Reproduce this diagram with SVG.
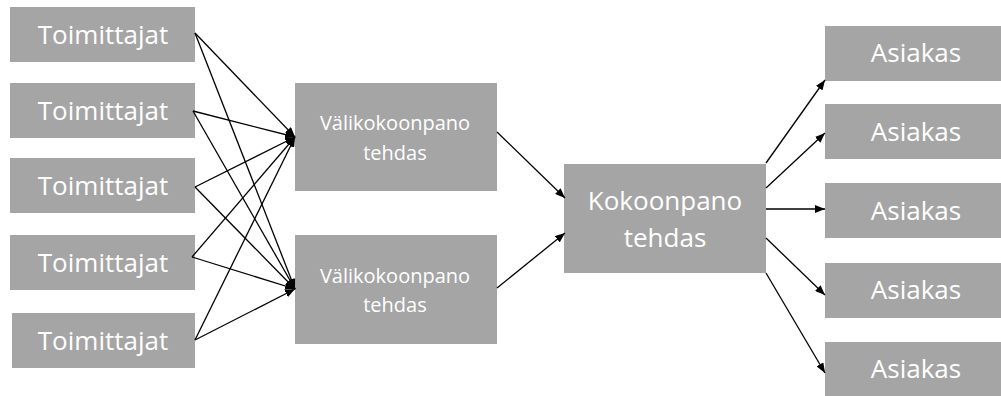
<svg xmlns="http://www.w3.org/2000/svg" width="1001" height="396" viewBox="0 0 1001 396">
<style>
.box{fill:#a5a5a5;}
.t{fill:#ffffff;font-family:"Open Sans","Noto Sans","DejaVu Sans",sans-serif;text-anchor:middle;}
.big{font-size:26px;}
.small{font-size:20px;}
.c{stroke:#000;stroke-width:1.3;fill:none;marker-end:url(#ah);}
</style>
<defs>
<marker id="ah" markerWidth="10" markerHeight="8" refX="10" refY="4" orient="auto" markerUnits="userSpaceOnUse">
<path d="M0,0 L10,4 L0,8 Z" fill="#000"/>
</marker>
</defs>
<rect width="1001" height="396" fill="#ffffff"/>
<g id="toim1"><rect class="box" x="10" y="7" width="185" height="55"/><text class="t big" x="103" y="44">Toimittajat</text></g>
<g id="toim2"><rect class="box" x="10" y="83" width="185" height="55"/><text class="t big" x="103" y="120">Toimittajat</text></g>
<g id="toim3"><rect class="box" x="10" y="158" width="185" height="55"/><text class="t big" x="103" y="195">Toimittajat</text></g>
<g id="toim4"><rect class="box" x="10" y="235" width="185" height="55"/><text class="t big" x="103" y="272">Toimittajat</text></g>
<g id="toim5"><rect class="box" x="12" y="313" width="183" height="55"/><text class="t big" x="103" y="350">Toimittajat</text></g>
<g id="vali1"><rect class="box" x="295" y="83" width="202" height="108"/><text class="t small" x="395" y="130">Välikokoonpano</text><text class="t small" x="395" y="160">tehdas</text></g>
<g id="vali2"><rect class="box" x="295" y="235" width="202" height="109"/><text class="t small" x="395" y="283">Välikokoonpano</text><text class="t small" x="395" y="312">tehdas</text></g>
<g id="kokoonpano"><rect class="box" x="564" y="164" width="202" height="109"/><text class="t big" x="665" y="210">Kokoonpano</text><text class="t big" x="665" y="247">tehdas</text></g>
<g id="asiakas1"><rect class="box" x="825" y="26" width="183" height="55"/><text class="t big" x="916" y="62">Asiakas</text></g>
<g id="asiakas2"><rect class="box" x="825" y="104" width="183" height="55"/><text class="t big" x="916" y="141">Asiakas</text></g>
<g id="asiakas3"><rect class="box" x="825" y="183" width="183" height="55"/><text class="t big" x="916" y="220">Asiakas</text></g>
<g id="asiakas4"><rect class="box" x="825" y="263" width="183" height="55"/><text class="t big" x="916" y="299">Asiakas</text></g>
<g id="asiakas5"><rect class="box" x="825" y="342" width="183" height="56"/><text class="t big" x="916" y="378">Asiakas</text></g>
<g id="connectors">
<line class="c" x1="195" y1="33" x2="295" y2="137"/>
<line class="c" x1="195" y1="33" x2="295" y2="289"/>
<line class="c" x1="193" y1="111" x2="295" y2="137"/>
<line class="c" x1="193" y1="111" x2="295" y2="289"/>
<line class="c" x1="195" y1="187" x2="295" y2="137"/>
<line class="c" x1="195" y1="187" x2="295" y2="289"/>
<line class="c" x1="192" y1="257" x2="295" y2="137"/>
<line class="c" x1="192" y1="257" x2="295" y2="289"/>
<line class="c" x1="195" y1="340" x2="295" y2="137"/>
<line class="c" x1="195" y1="340" x2="295" y2="289"/>
<line class="c" x1="497" y1="132" x2="565" y2="198"/>
<line class="c" x1="497" y1="288" x2="565" y2="233"/>
<line class="c" x1="766" y1="163" x2="825" y2="80"/>
<line class="c" x1="766" y1="188" x2="825" y2="133"/>
<line class="c" x1="766" y1="209" x2="825" y2="209"/>
<line class="c" x1="766" y1="238" x2="825" y2="295"/>
<line class="c" x1="766" y1="273" x2="825" y2="373"/>
</g>
</svg>
